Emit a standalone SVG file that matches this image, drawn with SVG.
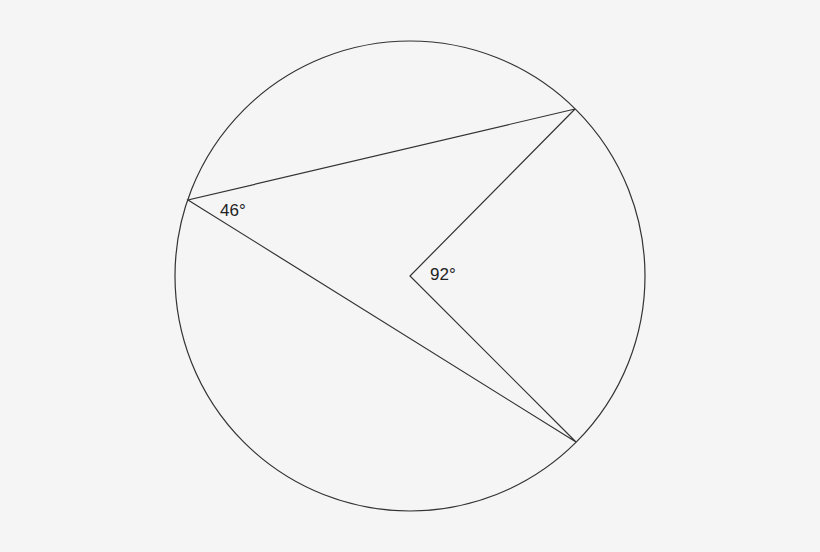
<svg xmlns="http://www.w3.org/2000/svg" width="820" height="552" viewBox="0 0 820 552">
<style>
.ln{fill:none;stroke:#333;stroke-width:1.2}
.t{font-family:"Liberation Sans",Arial,sans-serif;font-size:17px;fill:#222}
</style>
<rect width="820" height="552" fill="#f5f5f5"/>
<g id="circle"><circle class="ln" cx="410" cy="276" r="235"/></g>
<g id="connectors">
<polyline class="ln" points="575,109 188,200 576,442 410,276 575,109"/>
</g>
<g id="labels">
<text class="t" x="220" y="216">46°</text>
<text class="t" x="430" y="280">92°</text>
</g>
</svg>
